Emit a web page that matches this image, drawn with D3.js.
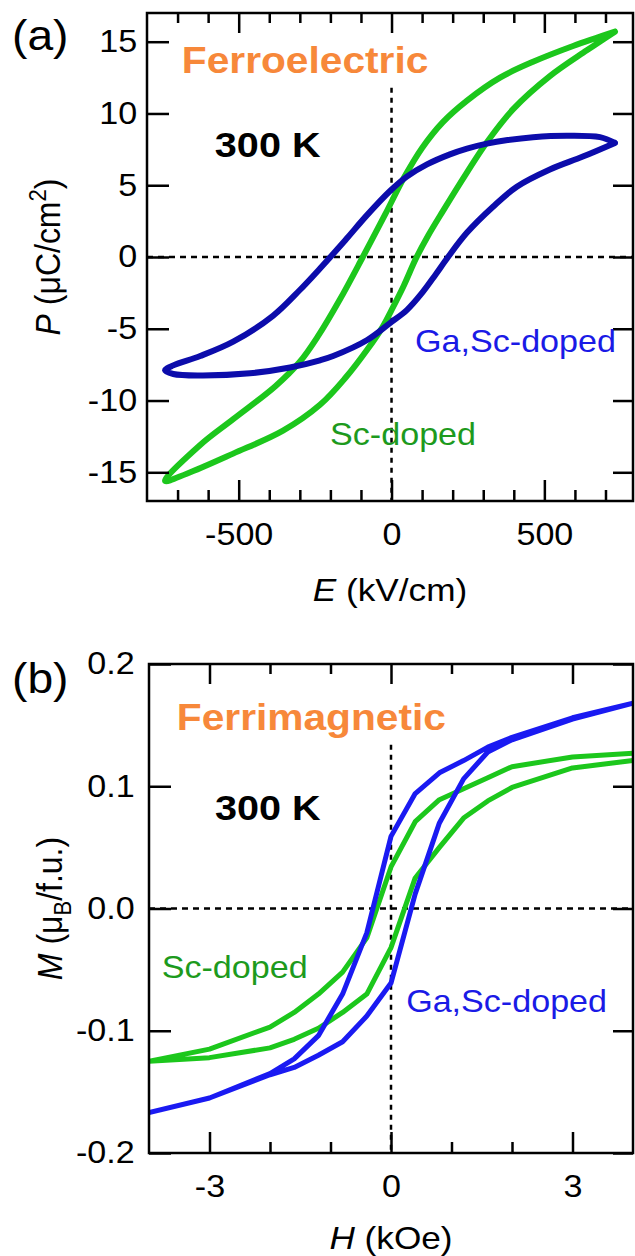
<!DOCTYPE html>
<html>
<head>
<meta charset="utf-8">
<script src="https://cdn.jsdelivr.net/npm/d3@7"></script>
<style>
  body { margin: 0; background: #fff; }
  text { font-family: "Liberation Sans", Arial, Helvetica, sans-serif; }
</style>
</head>
<body>
<svg id="chart" width="635" height="1256"></svg>
<script>
// ---- (a) P-E loops, [E (kV/cm), P (uC/cm2)] ----
var peScDown = [[731, 15.7], [594, 14.7], [463, 13.6], [355, 12.5], [247, 10.9], [168, 9.4], [100, 7.6],
  [40, 5.5], [-20, 3.0], [-94, 0], [-170, -3.0], [-240, -5.5], [-300, -7.3], [-380, -9.0],
  [-518, -11.3], [-626, -13.1], [-741, -15.6]];
var peScUp = [[-741, -15.6], [-670, -15.1], [-518, -13.7], [-355, -12.1], [-234, -10.3], [-150, -8.4],
  [-81, -6.5], [-30, -4.9], [0, -3.7], [40, -2.0], [80, -0.1], [120, 1.5], [168, 3.2], [247, 5.9],
  [312, 8.0], [398, 10.3], [518, 12.6], [639, 14.4], [731, 15.7]];
var peGaScDown = [[731, 7.95], [682, 8.35], [573, 8.45], [463, 8.35], [380, 8.15], [312, 7.9], [247, 7.55],
  [191, 7.15], [116, 6.45], [50, 5.6], [-5, 4.6], [-81, 2.9], [-146, 1.3], [-200, 0], [-234, -0.8],
  [-300, -2.3], [-388, -4.1], [-518, -5.9], [-626, -6.9], [-714, -7.55], [-741, -7.9]];
var peGaScUp = [[-741, -7.9], [-714, -8.15], [-626, -8.25], [-463, -8.1], [-332, -7.7], [-234, -7.2],
  [-191, -6.9], [-81, -5.8], [-5, -4.6], [50, -3.7], [100, -2.5], [145, -1.2], [185, 0], [247, 1.7],
  [332, 3.5], [410, 4.9], [518, 6.1], [626, 7.0], [731, 7.95]];

var eMajorTicks = [-500, 0, 500];
var eMinorTicks = [-700, -600, -400, -300, -200, -100, 100, 200, 300, 400, 600, 700];
var pTicks = [-15, -10, -5, 0, 5, 10, 15];

// ---- (b) M-H loops, field steps (kOe) and M (muB/f.u.) ----
var fieldDown = [4, 3, 2, 1.6, 1.2, 0.8, 0.4, 0, -0.4, -0.8, -1.2, -1.6, -2, -3, -4];
var fieldUp = [-4, -3, -2, -1.6, -1.2, -0.8, -0.4, 0, 0.4, 0.8, 1.2, 1.6, 2, 3, 4];
var mhScDown = [0.127, 0.124, 0.116, 0.107, 0.098, 0.089, 0.071, 0.034, -0.024, -0.052, -0.070, -0.085, -0.097, -0.115, -0.125];
var mhScUp = [-0.128, -0.122, -0.114, -0.107, -0.098, -0.085, -0.070, -0.032, 0.025, 0.050, 0.074, 0.088, 0.099, 0.115, 0.121];
var mhGaScDown = [0.168, 0.156, 0.140, 0.132, 0.121, 0.111, 0.094, 0.059, -0.020, -0.070, -0.104, -0.123, -0.135, -0.155, -0.167];
var mhGaScUp = [-0.167, -0.155, -0.136, -0.130, -0.120, -0.109, -0.088, -0.061, 0.012, 0.070, 0.106, 0.128, 0.138, 0.155, 0.168];

var hMajorTicks = [-3, 0, 3];
var hMinorTicks = [-2, -1, 1, 2];
var mTicks = [-0.2, -0.1, 0, 0.1, 0.2];

var GREEN = '#1cc71c', BLUE_A = '#0c0cab', BLUE_B = '#1a1af2';
var GREEN_TXT = '#1d9a1d', BLUE_TXT = '#1a1ae6', ORANGE = '#f7883a';
var STRETCH = 'scale(1.1,1)';

var svg = d3.select('#chart');

function addAxes(g, x, y, opt) {
  var x0 = x.range()[0], x1 = x.range()[1], yb = y.range()[0], yt = y.range()[1];
  var axes = g.append('g');

  axes.append('g').attr('transform', 'translate(0,' + yb + ')')
    .call(d3.axisBottom(x).tickValues(opt.xMajor).tickSize(-21).tickPadding(22).tickFormat(opt.xFormat));
  axes.append('g').attr('transform', 'translate(0,' + yb + ')')
    .call(d3.axisBottom(x).tickValues(opt.xMinor).tickSize(-11).tickFormat(''));
  axes.append('g').attr('transform', 'translate(0,' + yt + ')')
    .call(d3.axisTop(x).tickValues(opt.xMajor).tickSize(-20).tickFormat(''));
  axes.append('g').attr('transform', 'translate(0,' + yt + ')')
    .call(d3.axisTop(x).tickValues(opt.xMinor).tickSize(-10).tickFormat(''));
  axes.append('g').attr('transform', 'translate(' + x0 + ',0)')
    .call(d3.axisLeft(y).tickValues(opt.yMajor).tickSize(-22).tickPadding(opt.yPad).tickFormat(opt.yFormat));
  axes.append('g').attr('transform', 'translate(' + x1 + ',0)')
    .call(d3.axisRight(y).tickValues(opt.yMajor).tickSize(-20).tickFormat(''));

  axes.selectAll('.domain').remove();
  axes.selectAll('.tick line').attr('stroke', '#000').attr('stroke-width', 2.5);
  axes.selectAll('.tick text')
    .attr('fill', '#000')
    .style('font-size', '31px')
    .style('font-family', '"Liberation Sans", Arial, sans-serif')
    .attr('transform', STRETCH);

  g.append('rect')
    .attr('x', x0).attr('y', yt)
    .attr('width', x1 - x0).attr('height', yb - yt)
    .attr('fill', 'none').attr('stroke', '#000').attr('stroke-width', 2.5);
}

function zeroLines(g, x, y, vTop) {
  g.append('line')
    .attr('x1', x.range()[0]).attr('x2', x.range()[1])
    .attr('y1', y(0)).attr('y2', y(0))
    .attr('stroke', '#000').attr('stroke-width', 2.5).attr('stroke-dasharray', '6,5');
  g.append('line')
    .attr('x1', x(0)).attr('x2', x(0))
    .attr('y1', y(vTop)).attr('y2', y.range()[0])
    .attr('stroke', '#000').attr('stroke-width', 2.5).attr('stroke-dasharray', '5,5');
}

function label(g, px, py, str, size, color, weight) {
  return g.append('text')
    .attr('transform', 'translate(' + px + ',' + py + ') ' + STRETCH)
    .attr('fill', color)
    .style('font-size', size + 'px')
    .style('font-weight', weight || 'normal')
    .text(str);
}

function loopPath(g, line, pts, color, width, clip) {
  g.append('path')
    .datum(pts)
    .attr('d', line)
    .attr('fill', 'none')
    .attr('stroke', color)
    .attr('stroke-width', width)
    .attr('stroke-linejoin', 'round')
    .attr('stroke-linecap', 'round')
    .attr('clip-path', clip);
}

// ================= panel (a) =================
var xA = d3.scaleLinear().domain([-800, 790]).range([147, 633]);
var yA = d3.scaleLinear().domain([-17, 17]).range([501, 13]);
var gA = svg.append('g');

svg.append('clipPath').attr('id', 'clipA').append('rect')
  .attr('x', 147).attr('y', 13).attr('width', 486).attr('height', 488);

zeroLines(gA, xA, yA, 11.8);

var lineA = d3.line().x(function(d) { return xA(d[0]); }).y(function(d) { return yA(d[1]); })
  .curve(d3.curveCatmullRom.alpha(0.5));
loopPath(gA, lineA, peScDown.concat(peScUp.slice(1)), GREEN, 6, 'url(#clipA)');
loopPath(gA, lineA, peGaScDown.concat(peGaScUp.slice(1)), BLUE_A, 6, 'url(#clipA)');

addAxes(gA, xA, yA, {
  xMajor: eMajorTicks, xMinor: eMinorTicks, yMajor: pTicks, yPad: 9,
  xFormat: function(d) { return String(d); },
  yFormat: function(d) { return String(d); }
});

label(gA, 12, 50, '(a)', 42, '#000');
label(gA, xA(-686), yA(12.8), 'Ferroelectric', 37, ORANGE, 'bold');
label(gA, xA(-578), yA(7.0), '300 K', 36, '#000', 'bold');
label(gA, xA(77), yA(-6.6), 'Ga,Sc-doped', 31, BLUE_TXT);
label(gA, xA(-201), yA(-13.1), 'Sc-doped', 31, GREEN_TXT);

var eTitle = gA.append('text')
  .attr('transform', 'translate(' + ((147 + 633) / 2) + ',601) ' + STRETCH)
  .attr('text-anchor', 'middle').style('font-size', '32px');
eTitle.append('tspan').style('font-style', 'italic').text('E');
eTitle.append('tspan').text(' (kV/cm)');

var pTitle = gA.append('text')
  .attr('transform', 'translate(60,' + yA(0) + ') ' + STRETCH + ' rotate(-90)')
  .attr('text-anchor', 'middle').style('font-size', '32px');
pTitle.append('tspan').style('font-style', 'italic').text('P');
pTitle.append('tspan').text(' (\u03bcC/cm');
pTitle.append('tspan').attr('dy', -13).style('font-size', '22px').text('2');
pTitle.append('tspan').attr('dy', 13).text(')');

// ================= panel (b) =================
var xB = d3.scaleLinear().domain([-4, 4]).range([149, 633]);
var yB = d3.scaleLinear().domain([-0.2, 0.2]).range([1153, 664]);
var gB = svg.append('g');

svg.append('clipPath').attr('id', 'clipB').append('rect')
  .attr('x', 149).attr('y', 664).attr('width', 484).attr('height', 489);

zeroLines(gB, xB, yB, 0.134);

var lineB = d3.line().x(function(d) { return xB(d[0]); }).y(function(d) { return yB(d[1]); });
function loopPoints(down, up) {
  var a = fieldDown.map(function(h, i) { return [h, down[i]]; });
  var b = fieldUp.map(function(h, i) { return [h, up[i]]; });
  return a.concat(b.slice(1));
}
loopPath(gB, lineB, loopPoints(mhScDown, mhScUp), GREEN, 5, 'url(#clipB)');
loopPath(gB, lineB, loopPoints(mhGaScDown, mhGaScUp), BLUE_B, 5, 'url(#clipB)');

addAxes(gB, xB, yB, {
  xMajor: hMajorTicks, xMinor: hMinorTicks, yMajor: mTicks, yPad: 13,
  xFormat: function(d) { return String(d); },
  yFormat: function(d) { return d.toFixed(1); }
});

label(gB, 12, 693, '(b)', 42, '#000');
label(gB, xB(-3.54), yB(0.146), 'Ferrimagnetic', 37, ORANGE, 'bold');
label(gB, xB(-2.91), yB(0.072), '300 K', 36, '#000', 'bold');
label(gB, xB(-3.79), yB(-0.057), 'Sc-doped', 31, GREEN_TXT);
label(gB, xB(0.25), yB(-0.085), 'Ga,Sc-doped', 31, BLUE_TXT);

var hTitle = gB.append('text')
  .attr('transform', 'translate(' + ((149 + 633) / 2) + ',1249) ' + STRETCH)
  .attr('text-anchor', 'middle').style('font-size', '32px');
hTitle.append('tspan').style('font-style', 'italic').text('H');
hTitle.append('tspan').text(' (kOe)');

var mTitle = gB.append('text')
  .attr('transform', 'translate(62,' + yB(0) + ') ' + STRETCH + ' rotate(-90)')
  .attr('text-anchor', 'middle').style('font-size', '32px');
mTitle.append('tspan').style('font-style', 'italic').text('M');
mTitle.append('tspan').text(' (\u03bc');
mTitle.append('tspan').attr('dy', 8).style('font-size', '22px').text('B');
mTitle.append('tspan').attr('dy', -8).text('/f.u.)');
</script>
</body>
</html>
